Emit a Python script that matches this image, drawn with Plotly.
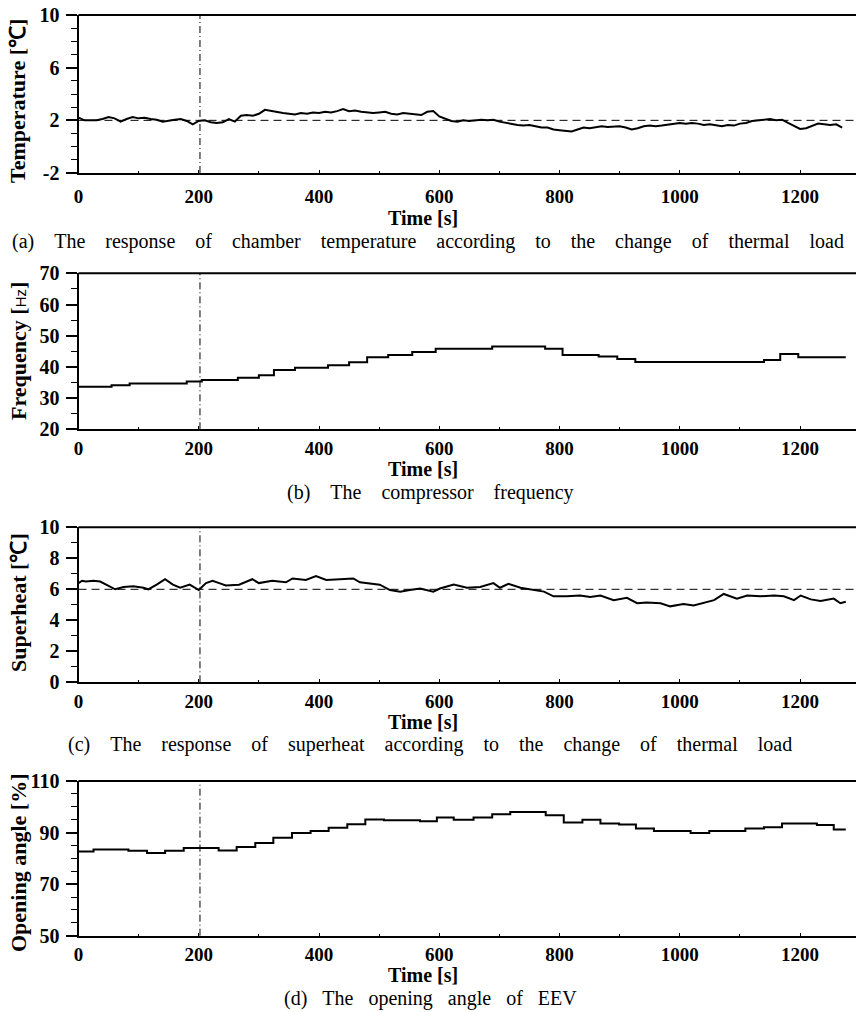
import plotly.graph_objects as go

# ---------------- data ----------------
# (a) chamber temperature, sampled every 10 s
temp_time = list(range(0, 1271, 10))
temp_vals = [2.2, 2.0, 2.0, 2.0, 2.1, 2.25, 2.15, 1.9, 2.1, 2.25,
             2.15, 2.2, 2.1, 2.05, 1.9, 2.0, 2.05, 2.1, 1.95, 1.7,
             1.95, 2.0, 1.85, 1.8, 1.85, 2.1, 1.9, 2.35, 2.4, 2.35,
             2.5, 2.8, 2.7, 2.6, 2.55, 2.5, 2.45, 2.55, 2.5, 2.6,
             2.55, 2.65, 2.6, 2.7, 2.85, 2.7, 2.75, 2.65, 2.6, 2.55,
             2.6, 2.65, 2.5, 2.45, 2.55, 2.5, 2.45, 2.4, 2.65, 2.7,
             2.3, 2.15, 1.95, 1.9, 2.0, 1.95, 2.0, 2.05, 2.0, 2.05,
             1.9, 1.8, 1.75, 1.65, 1.6, 1.65, 1.55, 1.45, 1.45, 1.3,
             1.25, 1.2, 1.15, 1.3, 1.45, 1.4, 1.5, 1.55, 1.5, 1.55,
             1.55, 1.45, 1.3, 1.4, 1.55, 1.6, 1.55, 1.6, 1.65, 1.75,
             1.8, 1.75, 1.8, 1.75, 1.65, 1.7, 1.6, 1.55, 1.65, 1.6,
             1.75, 1.8, 1.95, 2.0, 2.05, 2.1, 2.0, 2.05, 1.8, 1.55,
             1.35, 1.4, 1.6, 1.75, 1.7, 1.65, 1.7, 1.45]
temp_setpoint = 2.0

# (b) compressor frequency (step signal)
freq_time = [0, 55, 85, 180, 205, 265, 300, 325, 360, 415, 450, 480, 515,
             555, 594, 688, 776, 805, 865, 896, 926, 1140, 1167, 1197, 1276]
freq_vals = [33.6, 34.1, 34.7, 35.3, 35.8, 36.5, 37.3, 39.0, 39.7, 40.5,
             41.5, 43.1, 43.8, 44.8, 45.8, 46.5, 45.8, 43.8, 43.3, 42.5,
             41.6, 42.2, 44.1, 43.1, 43.1]

# (c) superheat
sh_time = [0, 6, 12, 25, 36, 47, 61, 75, 91, 108, 116, 130, 144, 157, 169,
           185, 200, 212, 223, 234, 245, 267, 289, 300, 322, 345, 356, 378,
           395, 412, 435, 457, 468, 479, 501, 518, 535, 551, 568, 590, 601,
           624, 646, 668, 690, 701, 715, 735, 752, 774, 790, 812, 834, 851,
           868, 890, 912, 929, 945, 968, 984, 1006, 1023, 1040, 1057, 1073,
           1095, 1112, 1134, 1157, 1173, 1190, 1201, 1218, 1234, 1256, 1267,
           1276]
sh_vals = [6.4, 6.55, 6.5, 6.55, 6.5, 6.3, 6.0, 6.15, 6.2, 6.1, 6.0, 6.3,
           6.65, 6.3, 6.1, 6.3, 5.95, 6.4, 6.55, 6.4, 6.25, 6.3, 6.65, 6.4,
           6.55, 6.45, 6.7, 6.6, 6.85, 6.6, 6.65, 6.7, 6.45, 6.4, 6.3, 5.95,
           5.85, 5.95, 6.05, 5.85, 6.05, 6.3, 6.1, 6.15, 6.4, 6.1, 6.35, 6.1,
           6.0, 5.85, 5.55, 5.55, 5.6, 5.5, 5.6, 5.3, 5.45, 5.1, 5.15, 5.1,
           4.9, 5.05, 4.95, 5.15, 5.3, 5.7, 5.4, 5.6, 5.55, 5.6, 5.55, 5.3,
           5.6, 5.35, 5.25, 5.4, 5.1, 5.2]
sh_setpoint = 6.0

# (d) EEV opening angle (step signal)
eev_time = [0, 25, 83, 114, 144, 175, 233, 263, 294, 324, 355, 386, 416,
            447, 477, 508, 568, 596, 624, 657, 688, 718, 777, 807, 838, 868,
            899, 927, 957, 1018, 1049, 1109, 1140, 1170, 1228, 1256, 1276]
eev_vals = [82.7, 83.4, 82.9, 82.1, 82.9, 84.0, 83.0, 84.4, 86.0, 88.0,
            89.8, 90.6, 91.9, 93.2, 95.1, 94.8, 94.4, 95.8, 95.0, 95.8,
            97.1, 98.0, 96.7, 93.9, 95.0, 93.5, 93.1, 91.6, 90.6, 89.8,
            90.6, 91.6, 92.1, 93.5, 92.9, 91.2, 91.2]

load_change_time = 202
x_range = [0, 1293]
x_ticks = [0, 200, 400, 600, 800, 1000, 1200]
x_tick_labels = ["0", "200", "400", "600", "800", "1000", "1200"]

y_ranges = [[-2, 10], [20, 70], [0, 10], [50, 110]]
y_ticks = [[-2, 2, 6, 10], [20, 30, 40, 50, 60, 70], [0, 2, 4, 6, 8, 10], [50, 70, 90, 110]]
y_tick_labels = [["-2", "2", "6", "10"], ["20", "30", "40", "50", "60", "70"],
                 ["0", "2", "4", "6", "8", "10"], ["50", "70", "90", "110"]]
y_minor = [1, 5, 1, 5]

y_titles = ["Temperature [℃]",
            "Frequency [<span style='font-family:Liberation Sans;font-weight:normal;font-size:15px'>Hz</span>]",
            "Superheat [℃]",
            "Opening angle [%]"]
captions = ["(a) The response of chamber temperature according to the change of thermal load",
            "(b) The compressor frequency",
            "(c) The response of superheat according to the change of thermal load",
            "(d) The opening angle of EEV"]
x_title = "Time [s]"

# ---------------- layout geometry (pixels) ----------------
W, H = 856, 1012
plot_left = 78.5
panels_px = [(15, 173), (273.3, 429.3), (527.3, 682.3), (781, 935.7)]
ytitle_center_px = [101, 351, 603, 863]
xlabel_standoff = [5, 1, 1, 0]
xtitle_center_px = [218, 469, 722, 975]
caption_center_px = [241, 492, 744, 998]
caption_center_x = [428, 430, 430, 430]
caption_gap = [3, 3, 3, 2]

def py(px):
    return 1 - px / H

serif = "Liberation Serif"
fig = go.Figure()

series = [(temp_time, temp_vals, "linear"),
          (freq_time, freq_vals, "hv"),
          (sh_time, sh_vals, "linear"),
          (eev_time, eev_vals, "hv")]

for i, (xs, ys, shape) in enumerate(series):
    n = "" if i == 0 else str(i + 1)
    fig.add_trace(go.Scatter(x=xs, y=ys, mode="lines", line=dict(color="black", width=2, shape=shape),
                             xaxis="x" + n, yaxis="y" + n, showlegend=False, hoverinfo="skip"))
    top, bot = panels_px[i]
    axis_common = dict(showline=True, linecolor="black", linewidth=2, showgrid=False, zeroline=False)
    fig.layout["xaxis" + n] = dict(domain=[plot_left / W, 1], range=x_range, anchor="y" + n,
                                   tickvals=x_ticks, ticktext=x_tick_labels,
                                   ticks="inside", ticklen=3, tickwidth=1, tickcolor="black",
                                   minor=dict(dtick=100, tick0=0, ticks="inside", ticklen=2, tickcolor="black"),
                                   tickfont=dict(family=serif, size=19, color="black", weight="bold"),
                                   ticklabelstandoff=xlabel_standoff[i], automargin=False, **axis_common)
    fig.layout["yaxis" + n] = dict(domain=[py(bot), py(top)], range=y_ranges[i], anchor="x" + n,
                                   tickvals=y_ticks[i], ticktext=y_tick_labels[i],
                                   ticks="outside", ticklen=11, tickwidth=1.5, tickcolor="black",
                                   minor=dict(dtick=y_minor[i], tick0=y_ranges[i][0], ticks="outside", ticklen=6,
                                              tickwidth=1, tickcolor="black"),
                                   tickfont=dict(family=serif, size=20, color="black", weight="bold"),
                                   ticklabelstandoff=2, automargin=False, **axis_common)
    # top frame line
    fig.add_shape(type="line", xref="x" + n + " domain", yref="y" + n + " domain",
                  x0=0, x1=1, y0=1, y1=1, line=dict(color="black", width=2))
    # thermal-load change marker
    fig.add_shape(type="line", xref="x" + n, yref="y" + n + " domain",
                  x0=load_change_time, x1=load_change_time, y0=0, y1=1,
                  line=dict(color="black", width=1, dash="7px,3px,1px,3px"))
    # y title
    fig.add_annotation(text=y_titles[i], xref="paper", yref="paper", x=18 / W, y=py(ytitle_center_px[i]),
                       textangle=-90, showarrow=False, xanchor="center", yanchor="middle",
                       font=dict(family=serif, size=22, color="black", weight="bold"))
    # x title
    fig.add_annotation(text=x_title, xref="paper", yref="paper", x=423 / W, y=py(xtitle_center_px[i]),
                       showarrow=False, xanchor="center", yanchor="middle",
                       font=dict(family=serif, size=20, color="black", weight="bold"))
    # caption
    gap = " " + "&nbsp;" * caption_gap[i]
    fig.add_annotation(text=gap.join(captions[i].split(" ")), xref="paper", yref="paper",
                       x=caption_center_x[i] / W, y=py(caption_center_px[i]), showarrow=False,
                       xanchor="center", yanchor="middle",
                       font=dict(family=serif, size=20, color="black"))

# set-point dashed lines
fig.add_shape(type="line", xref="x domain", yref="y", x0=0, x1=1, y0=temp_setpoint, y1=temp_setpoint,
              line=dict(color="black", width=1, dash="8px,5px"), layer="below")
fig.add_shape(type="line", xref="x3 domain", yref="y3", x0=0, x1=1, y0=sh_setpoint, y1=sh_setpoint,
              line=dict(color="black", width=1, dash="8px,5px"), layer="below")

fig.update_layout(width=W, height=H, margin=dict(l=0, r=0, t=0, b=0),
                  paper_bgcolor="white", plot_bgcolor="white")
fig.write_html("out.html", config={"displayModeBar": False},
               post_script="document.body.style.margin='0';document.body.style.overflow='hidden';")
